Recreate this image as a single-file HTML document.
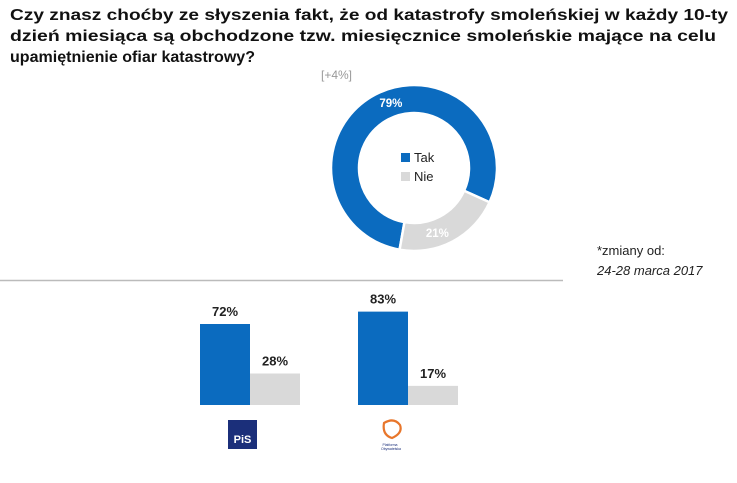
<!DOCTYPE html>
<html><head><meta charset="utf-8"><style>
html,body{margin:0;padding:0;background:#fff;width:737px;height:483px;overflow:hidden}
text{font-family:"Liberation Sans",sans-serif}
</style></head><body>
<svg id="chart" width="737" height="483" xmlns="http://www.w3.org/2000/svg">
<g font-size="16" font-weight="bold" fill="#111">
<text x="10" y="20" textLength="718" lengthAdjust="spacingAndGlyphs">Czy znasz choćby ze słyszenia fakt, że od katastrofy smoleńskiej w każdy 10-ty</text>
<text x="10" y="41" textLength="706" lengthAdjust="spacingAndGlyphs">dzień miesiąca są obchodzone tzw. miesięcznice smoleńskie mające na celu</text>
<text x="10" y="62" textLength="245" lengthAdjust="spacingAndGlyphs">upamiętnienie ofiar katastrowy?</text>
</g>
<text x="321" y="79" font-size="12" fill="#999">[+4%]</text>
<g id="donut"></g>
<g>
<rect x="401" y="153" width="9" height="9" fill="#0b6bbf"/>
<text x="414" y="162" font-size="13" fill="#222">Tak</text>
<rect x="401" y="172" width="9" height="9" fill="#d9d9d9"/>
<text x="414" y="181" font-size="13" fill="#222">Nie</text>
</g>
<text x="597" y="255" font-size="13" fill="#222">*zmiany od:</text>
<text x="597" y="275" font-size="13" font-style="italic" fill="#222">24-28  marca 2017</text>
<line x1="0" y1="280.5" x2="563" y2="280.5" stroke="#bbb" stroke-width="1.5"/>
<g id="bars"></g>
<g>
<rect x="228" y="420" width="29" height="29" fill="#1b2f7a"/>
<text x="242.5" y="443" font-size="11" font-weight="bold" fill="#fff" text-anchor="middle" font-family="Liberation Serif">PiS</text>
</g>
<g>
<path d="M384 423 q10 -6 16 2 q3 8 -8 13 q-10 -3 -8 -15z" fill="none" stroke="#e8762b" stroke-width="2.2"/>
<text x="390" y="446" font-size="3.5" fill="#1b2f7a" text-anchor="middle">Platforma</text>
<text x="391" y="450" font-size="3.5" fill="#1b2f7a" text-anchor="middle">Obywatelska</text>
</g>
</svg>
<script>
const donutLabels=["Tak","Nie"];
const donutValues=[79,21];
const donutPrinted=["79%","21%"];
const groups=["PiS","PO"];
const takValues=[72,83];
const nieValues=[28,17];
const NS="http://www.w3.org/2000/svg";
const colors=["#0b6bbf","#d9d9d9"];
const cx=414,cy=168,ro=83,ri=55,start=190;
const dg=document.getElementById("donut");
function pt(a,r){const t=(a-90)*Math.PI/180;return [cx+r*Math.cos(t),cy+r*Math.sin(t)];}
let total=donutValues.reduce((a,b)=>a+b,0),acc=start;
donutValues.forEach((v,i)=>{
 const sw=v/total*360,a0=acc,a1=acc+sw;acc=a1;
 const l=sw>180?1:0;
 const p0=pt(a0,ro),p1=pt(a1,ro),p2=pt(a1,ri),p3=pt(a0,ri);
 const p=document.createElementNS(NS,"path");
 p.setAttribute("d",`M${p0}A${ro},${ro} 0 ${l} 1 ${p1}L${p2}A${ri},${ri} 0 ${l} 0 ${p3}Z`);
 p.setAttribute("fill",colors[i]);p.setAttribute("stroke","#fff");p.setAttribute("stroke-width","2.5");
 
 
 dg.appendChild(p);
 const lp=pt(i==0?a1-134:a0+sw/2+8,(ro+ri)/2);
 const t=document.createElementNS(NS,"text");
 t.setAttribute("x",lp[0]);t.setAttribute("y",lp[1]+4);t.setAttribute("text-anchor","middle");
 t.setAttribute("font-size","11.5");t.setAttribute("font-weight","bold");t.setAttribute("fill","#fff");
 t.textContent=donutPrinted[i];
 
 
 dg.appendChild(t);
});
const bg=document.getElementById("bars");
const base=405,scale=1.125,bw=50,groupX=[200,358];
function y(v){return base-v*scale;}
groups.forEach((g,i)=>{
 [[takValues[i],colors[0],"tak"],[nieValues[i],colors[1],"nie"]].forEach((s,j)=>{
  const x=groupX[i]+j*bw;
  const r=document.createElementNS(NS,"rect");
  r.setAttribute("x",x);r.setAttribute("y",y(s[0]));r.setAttribute("width",bw);r.setAttribute("height",base-y(s[0]));r.setAttribute("fill",s[1]);
  
  
  bg.appendChild(r);
  const t=document.createElementNS(NS,"text");
  t.setAttribute("x",x+bw/2);t.setAttribute("y",y(s[0])-8);t.setAttribute("text-anchor","middle");
  t.setAttribute("font-size","13");t.setAttribute("font-weight","bold");t.setAttribute("fill","#222");
  t.textContent=s[0]+"%";
  
  
  bg.appendChild(t);
 });
});
</script>
</body></html>
